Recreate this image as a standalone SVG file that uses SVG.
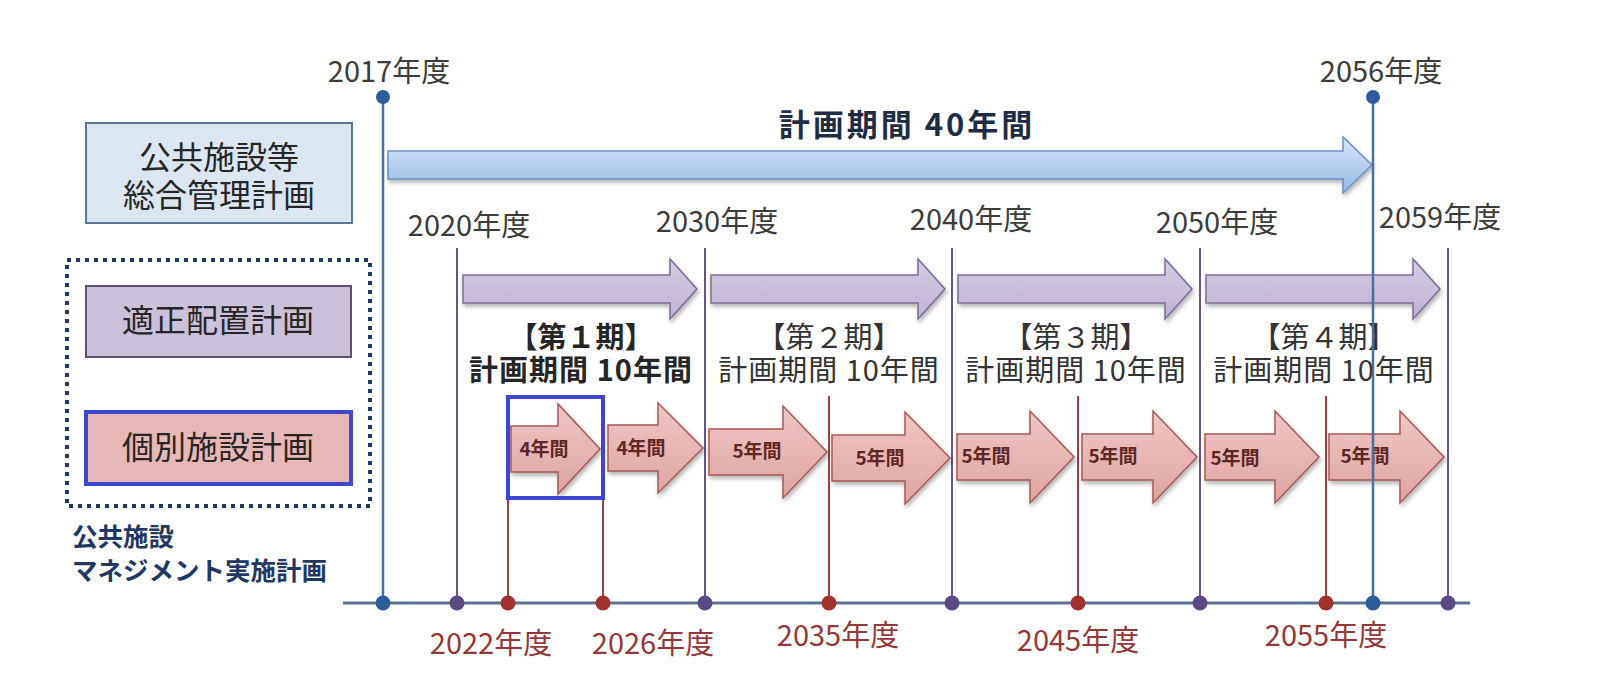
<svg xmlns="http://www.w3.org/2000/svg" width="1600" height="700" viewBox="0 0 1600 700">
<defs>
<style>
text{font-family:"Noto Sans CJK JP","Liberation Sans",sans-serif}
.yr{font-size:29px;fill:#3c3c3c;text-anchor:middle}
.yrr{font-size:29px;fill:#94373a;text-anchor:middle}
.box{font-size:32px;fill:#262626;text-anchor:middle}
.per{font-size:29px;fill:#333;text-anchor:middle}
.perb{font-size:29px;fill:#262626;text-anchor:middle;font-weight:bold}
.pk{font-size:19px;fill:#5e2624;text-anchor:middle;font-weight:bold}
.lb{stroke:#4a6e9e;stroke-width:2.5}
.lp{stroke:#65568a;stroke-width:2}
.lr{stroke:#a23d3d;stroke-width:2}
.pa{fill:url(#gp);stroke:#7c6c98;stroke-width:1.5;filter:url(#sh)}
.ka{fill:url(#gk);stroke:#a45a57;stroke-width:1.5;filter:url(#sh)}
</style>
<linearGradient id="gb" x1="0" y1="0" x2="0" y2="1"><stop offset="0" stop-color="#d8e6f7"/><stop offset="1" stop-color="#93b8e6"/></linearGradient>
<linearGradient id="gp" x1="0" y1="0" x2="0" y2="1"><stop offset="0" stop-color="#d6cde3"/><stop offset="1" stop-color="#beb1d2"/></linearGradient>
<linearGradient id="gk" x1="0" y1="0" x2="0" y2="1"><stop offset="0" stop-color="#efc7c6"/><stop offset="1" stop-color="#dea3a1"/></linearGradient>
<filter id="sh" x="-10%" y="-20%" width="120%" height="150%"><feDropShadow dx="1.5" dy="3" stdDeviation="2" flood-color="#000" flood-opacity="0.3"/></filter>
</defs>
<rect width="1600" height="700" fill="#fff"/>

<g id="left-boxes">
<g id="sogo"><rect x="86" y="123" width="266" height="100" fill="#dce6f1" stroke="#5a7694" stroke-width="2"/>
<text class="box" x="219" y="169">公共施設等</text><text class="box" x="219" y="207">総合管理計画</text></g>
<g id="jissi"><rect x="67" y="260" width="303" height="246" fill="none" stroke="#1f3864" stroke-width="4" stroke-dasharray="4 5"/></g>
<g id="tekisei"><rect x="86" y="286" width="265" height="71" fill="#ccc1da" stroke="#5f5070" stroke-width="2"/>
<text class="box" x="218" y="332">適正配置計画</text></g>
<g id="kobetsu"><rect x="86" y="412" width="265" height="72" fill="#e6b9b8" stroke="#3f48cc" stroke-width="4"/>
<text class="box" x="218" y="459">個別施設計画</text></g>
<g id="jissi-label"><text x="72" y="546" font-size="25.5" font-weight="bold" fill="#1f3864">公共施設</text>
<text x="72" y="580" font-size="25.5" font-weight="bold" fill="#1f3864">マネジメント実施計画</text></g>
</g>

<g id="big-arrow">
<polygon points="388,151 1343,151 1343,137 1372,165 1343,193 1343,179 388,179" fill="url(#gb)" stroke="#6f90bf" stroke-width="1.5" filter="url(#sh)"/>
<text x="907" y="136" font-size="31" font-weight="bold" fill="#1f2d44" text-anchor="middle" letter-spacing="3">計画期間 40年間</text>
</g>

<g id="purple-arrows">
<polygon class="pa" points="463,275 670,275 670,259 697,289 670,319 670,303 463,303"/>
<polygon class="pa" points="711,275 918,275 918,259 945,289 918,319 918,303 711,303"/>
<polygon class="pa" points="958,275 1165,275 1165,259 1192,289 1165,319 1165,303 958,303"/>
<polygon class="pa" points="1206,275 1413,275 1413,259 1440,289 1413,319 1413,303 1206,303"/>
</g>

<g id="periods">
<g id="p1"><text class="perb" x="581" y="348">【第１期】</text><text class="perb" x="581" y="381" letter-spacing="1">計画期間 10年間</text></g>
<g id="p2"><text class="per" x="829" y="348">【第２期】</text><text class="per" x="829" y="381" letter-spacing="1">計画期間 10年間</text></g>
<g id="p3"><text class="per" x="1076" y="348">【第３期】</text><text class="per" x="1076" y="381" letter-spacing="1">計画期間 10年間</text></g>
<g id="p4"><text class="per" x="1324" y="348">【第４期】</text><text class="per" x="1324" y="381" letter-spacing="1">計画期間 10年間</text></g>
</g>

<g id="connectors">
<line class="lp" x1="457" y1="248" x2="457" y2="603"/>
<line class="lp" x1="705" y1="248" x2="705" y2="603"/>
<line class="lp" x1="952" y1="248" x2="952" y2="603"/>
<line class="lp" x1="1200" y1="248" x2="1200" y2="603"/>
<line class="lp" x1="1448" y1="248" x2="1448" y2="603"/>
<line class="lr" x1="508" y1="498" x2="508" y2="603"/>
<line class="lr" x1="603" y1="498" x2="603" y2="603"/>
<line class="lr" x1="829" y1="396" x2="829" y2="603"/>
<line class="lr" x1="1078" y1="396" x2="1078" y2="603"/>
<line class="lr" x1="1326" y1="396" x2="1326" y2="603"/>
</g>

<g id="pink-arrows">
<g id="a1"><polygon class="ka" points="511,426 558,426 558,404 600,449 558,494 558,472 511,472"/><text class="pk" x="544" y="456">4年間</text></g>
<g id="a2"><polygon class="ka" points="608,425 658,425 658,403 703,448 658,493 658,471 608,471"/><text class="pk" x="641" y="455">4年間</text></g>
<g id="a3"><polygon class="ka" points="709,429 783,429 783,406 827,452 783,498 783,475 709,475"/><text class="pk" x="757" y="458">5年間</text></g>
<g id="a4"><polygon class="ka" points="832,435 905,435 905,412 950,458 905,504 905,481 832,481"/><text class="pk" x="880" y="465">5年間</text></g>
<g id="a5"><polygon class="ka" points="957,434 1030,434 1030,411 1074,457 1030,503 1030,480 957,480"/><text class="pk" x="986" y="463">5年間</text></g>
<g id="a6"><polygon class="ka" points="1082,434 1153,434 1153,411 1197,457 1153,503 1153,480 1082,480"/><text class="pk" x="1113" y="463">5年間</text></g>
<g id="a7"><polygon class="ka" points="1205,434 1275,434 1275,411 1319,457 1275,503 1275,480 1205,480"/><text class="pk" x="1235" y="465">5年間</text></g>
<g id="a8"><polygon class="ka" points="1329,434 1400,434 1400,411 1444,457 1400,503 1400,480 1329,480"/><text class="pk" x="1365" y="463">5年間</text></g>
</g>

<g id="highlight"><rect x="508" y="397" width="95" height="101" fill="none" stroke="#3c46d2" stroke-width="4"/></g>

<g id="timeline">
<line x1="343" y1="603" x2="1470" y2="603" stroke="#5a7594" stroke-width="3"/>
<line class="lb" x1="383" y1="97" x2="383" y2="603"/>
<line class="lb" x1="1373" y1="97" x2="1373" y2="603"/>
<circle cx="383" cy="97" r="7" fill="#2e5b9a"/>
<circle cx="1373" cy="97" r="7" fill="#2e5b9a"/>
<circle cx="383" cy="603" r="7.5" fill="#2e5b9a"/>
<circle cx="1373" cy="603" r="7.5" fill="#2e5b9a"/>
<circle cx="457" cy="603" r="7.5" fill="#5c4a87"/>
<circle cx="705" cy="603" r="7.5" fill="#5c4a87"/>
<circle cx="952" cy="603" r="7.5" fill="#5c4a87"/>
<circle cx="1200" cy="603" r="7.5" fill="#5c4a87"/>
<circle cx="1448" cy="603" r="7.5" fill="#5c4a87"/>
<circle cx="508" cy="603" r="7.5" fill="#a3302e"/>
<circle cx="603" cy="603" r="7.5" fill="#a3302e"/>
<circle cx="829" cy="603" r="7.5" fill="#a3302e"/>
<circle cx="1078" cy="603" r="7.5" fill="#a3302e"/>
<circle cx="1326" cy="603" r="7.5" fill="#a3302e"/>
</g>

<g id="year-labels">
<text class="yr" x="389" y="82">2017年度</text>
<text class="yr" x="1381" y="82">2056年度</text>
<text class="yr" x="469" y="236">2020年度</text>
<text class="yr" x="717" y="232">2030年度</text>
<text class="yr" x="971" y="230">2040年度</text>
<text class="yr" x="1217" y="233">2050年度</text>
<text class="yr" x="1440" y="228">2059年度</text>
<text class="yrr" x="491" y="654">2022年度</text>
<text class="yrr" x="653" y="654">2026年度</text>
<text class="yrr" x="838" y="646">2035年度</text>
<text class="yrr" x="1078" y="651">2045年度</text>
<text class="yrr" x="1326" y="646">2055年度</text>
</g>
</svg>
